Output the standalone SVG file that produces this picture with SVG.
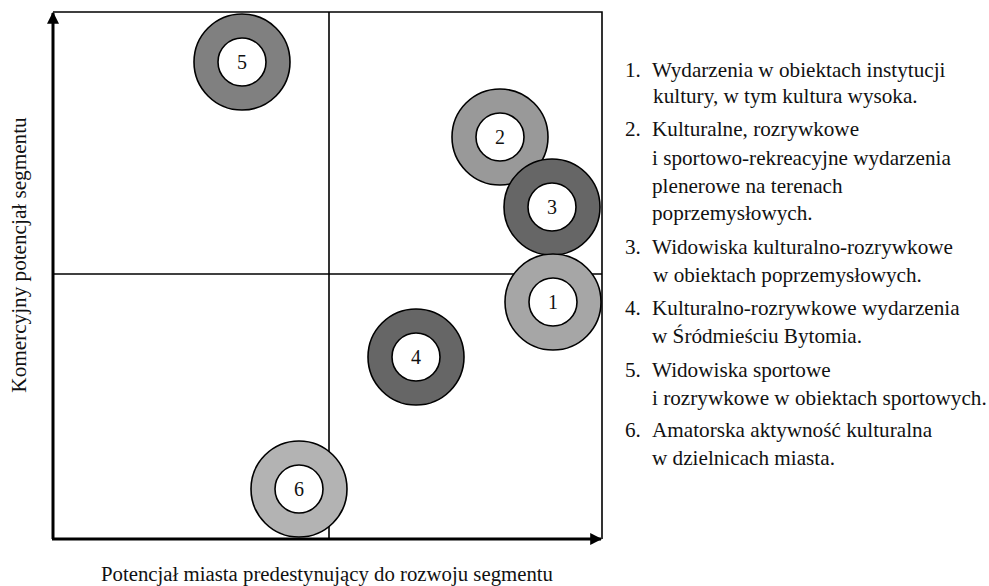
<svg xmlns="http://www.w3.org/2000/svg" width="989" height="586" viewBox="0 0 989 586">
<style>
  text { font-family: "Liberation Serif", "Times New Roman", serif; fill: #111; }
  .lbl { font-size: 20px; }
  .num { font-size: 20px; text-anchor: middle; }
  .frame { fill: none; stroke: #000; stroke-width: 1.6; }
  .axis { fill: none; stroke: #000; stroke-width: 3; }
  .ring { stroke: #000; stroke-width: 1.6; }
  .hole { fill: #fff; stroke: #000; stroke-width: 1.6; }
</style>
<defs>
  <marker id="arr" viewBox="0 0 10 10" refX="9" refY="5" markerWidth="4" markerHeight="4" orient="auto" markerUnits="strokeWidth">
    <path d="M0,0 L10,5 L0,10 z" fill="#000"/>
  </marker>
</defs>
<rect width="989" height="586" fill="#fff"/>
<g id="connectors">
  <polyline class="frame" points="53,12 602,12 602,539"/>
  <line class="frame" x1="329" y1="12" x2="329" y2="539"/>
  <line class="frame" x1="53" y1="274" x2="602" y2="274"/>
  <line class="axis" x1="53" y1="539" x2="53" y2="13" marker-end="url(#arr)"/>
  <line class="axis" x1="52" y1="539" x2="601" y2="539" marker-end="url(#arr)"/>
</g>
<g id="node5"><circle class="ring" cx="242" cy="62" r="48" fill="#808080"/><circle class="hole" cx="242" cy="62" r="24"/><text class="num" x="242" y="69">5</text></g>
<g id="node2"><circle class="ring" cx="500" cy="137" r="48" fill="#999999"/><circle class="hole" cx="500" cy="137" r="24"/><text class="num" x="500" y="144">2</text></g>
<g id="node3"><circle class="ring" cx="552" cy="207" r="48" fill="#666666"/><circle class="hole" cx="552" cy="207" r="24"/><text class="num" x="552" y="214">3</text></g>
<g id="node1"><circle class="ring" cx="553" cy="302" r="48" fill="#a6a6a6"/><circle class="hole" cx="553" cy="302" r="24"/><text class="num" x="553" y="309">1</text></g>
<g id="node4"><circle class="ring" cx="416" cy="357" r="48" fill="#666666"/><circle class="hole" cx="416" cy="357" r="24"/><text class="num" x="416" y="364">4</text></g>
<g id="node6"><circle class="ring" cx="299" cy="489" r="48" fill="#b3b3b3"/><circle class="hole" cx="299" cy="489" r="24"/><text class="num" x="299" y="496">6</text></g>
<g id="axis-labels">
  <text class="lbl" text-anchor="middle" transform="translate(26,255) rotate(-90) scale(1.06,1)">Komercyjny potencjał segmentu</text>
  <text class="lbl" text-anchor="middle" transform="translate(327,581) scale(1.04,1)">Potencjał miasta predestynujący do rozwoju segmentu</text>
</g>
<g id="legend" class="lbl" transform="translate(652,0) scale(1.06,1) translate(-652,0)">
  <text x="626.5" y="77">1.</text><text x="652" y="77">Wydarzenia w obiektach instytucji</text>
  <text x="653" y="103">kultury, w tym kultura wysoka.</text>
  <text x="626.5" y="136">2.</text><text x="652" y="136">Kulturalne, rozrywkowe</text>
  <text x="652" y="165">i sportowo-rekreacyjne wydarzenia</text>
  <text x="652" y="193">plenerowe na terenach</text>
  <text x="652" y="220">poprzemysłowych.</text>
  <text x="626.5" y="254">3.</text><text x="652" y="254">Widowiska kulturalno-rozrywkowe</text>
  <text x="653" y="282">w obiektach poprzemysłowych.</text>
  <text x="626.5" y="315">4.</text><text x="652" y="315">Kulturalno-rozrywkowe wydarzenia</text>
  <text x="652" y="343">w Śródmieściu Bytomia.</text>
  <text x="626.5" y="377">5.</text><text x="652" y="377">Widowiska sportowe</text>
  <text x="652" y="405">i rozrywkowe w obiektach sportowych.</text>
  <text x="626.5" y="437">6.</text><text x="652" y="437">Amatorska aktywność kulturalna</text>
  <text x="652" y="465">w dzielnicach miasta.</text>
</g>
</svg>
